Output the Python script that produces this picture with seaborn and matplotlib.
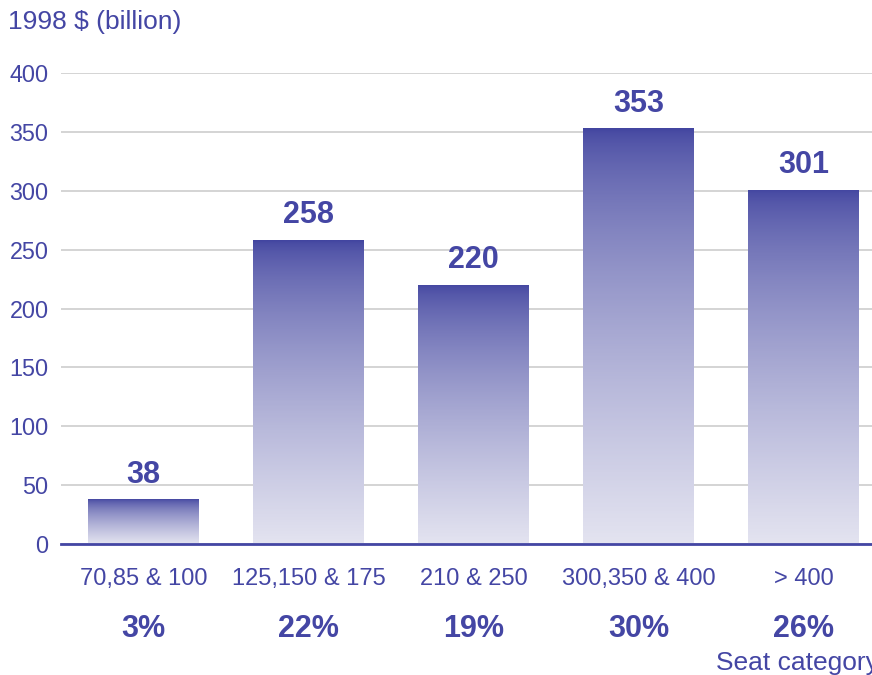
import numpy as np
import pandas as pd
import matplotlib
matplotlib.use("Agg")
import matplotlib.pyplot as plt
from matplotlib.colors import LinearSegmentedColormap
from matplotlib.transforms import blended_transform_factory
import seaborn as sns

# Market value by aircraft seat category
categories = ["70,85 & 100", "125,150 & 175", "210 & 250", "300,350 & 400", "> 400"]
values = [38, 258, 220, 353, 301]
shares = ["3%", "22%", "19%", "30%", "26%"]
yticks = [0, 50, 100, 150, 200, 250, 300, 350, 400]

BLUE = "#4446A4"
DARK = "#4245A0"
LIGHT = "#E3E3F0"
GRID = "#CDCDCD"

sns.set_theme(style="white")
plt.rcParams["font.family"] = ["Liberation Sans", "DejaVu Sans"]

df = pd.DataFrame({"category": categories, "value": values})

fig = plt.figure(figsize=(8.72, 6.75), dpi=100)
ax = fig.add_axes([61 / 872, 131 / 675, 1 - 61 / 872, 471 / 675])

sns.barplot(data=df, x="category", y="value", ax=ax, width=0.67,
            color=DARK, saturation=1, zorder=2)

# vertical gradient fill for each bar: dark at top, pale at bottom
cmap = LinearSegmentedColormap.from_list("fade", [DARK, LIGHT])
grad = np.linspace(0, 1, 256) ** 0.65
grad = grad.reshape(-1, 1)
for bar in ax.patches:
    x0, y0 = bar.get_x(), bar.get_y()
    w, h = bar.get_width(), bar.get_height()
    bar.set_facecolor("none")
    bar.set_edgecolor("none")
    im = ax.imshow(grad, cmap=cmap, aspect="auto", origin="upper",
                   extent=[x0, x0 + w, y0, y0 + h], zorder=2,
                   interpolation="bilinear")
    im.set_clip_path(bar)
ax.set_xlim(-0.5, 4.415)
ax.set_ylim(0, 400)

# value labels above bars
for i, v in enumerate(values):
    ax.annotate(str(v), xy=(i, v), xytext=(0, 7), textcoords="offset points",
                ha="center", va="bottom", fontsize=22, fontweight="bold",
                color=BLUE)

# share row below category labels
trans = blended_transform_factory(ax.transData, ax.transAxes)
for i, s in enumerate(shares):
    ax.text(i, -0.18, s, transform=trans, ha="center", va="center",
            fontsize=22, fontweight="bold", color=BLUE, clip_on=False)

# gridlines and axes styling
ax.set_yticks(yticks)
ax.set_yticklabels([str(t) for t in yticks])
ax.yaxis.grid(True, color=GRID, linewidth=1.2, zorder=0)
ax.set_axisbelow(True)
ax.tick_params(axis="y", length=0, pad=9, labelsize=16.8, labelcolor=BLUE)

ax.set_xticks(range(len(categories)))
ax.set_xticklabels(categories)
ax.tick_params(axis="x", which="major", length=0, pad=17, labelsize=17,
               labelcolor=BLUE)
ax.set_xticks([0.5, 1.5, 2.5, 3.5], minor=True)
ax.tick_params(axis="x", which="minor", length=6, width=1.5, color=BLUE,
               direction="out")

for side in ["top", "right", "left"]:
    ax.spines[side].set_visible(False)
ax.spines["bottom"].set_color(BLUE)
ax.spines["bottom"].set_linewidth(2)
ax.spines["bottom"].set_zorder(3)

ax.set_xlabel("")
ax.set_ylabel("")

fig.text(8 / 872, 1 - 22 / 675, "1998 $ (billion)", ha="left", va="center",
         fontsize=19, color=BLUE)
fig.text(716 / 872, 1 - 663 / 675, "Seat category", ha="left", va="center",
         fontsize=19, color=BLUE)

fig.savefig("out.png", dpi=100, facecolor="white")
